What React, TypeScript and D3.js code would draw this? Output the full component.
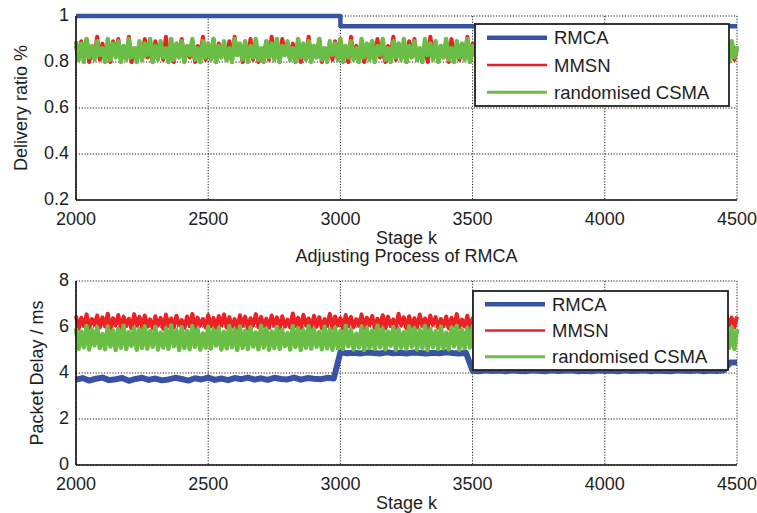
import React from 'react';
import * as d3 from 'd3';

// x axis (shared)
const stageTicks = [2000, 2500, 3000, 3500, 4000, 4500];
const ratioTicks = [0.2, 0.4, 0.6, 0.8, 1];
const delayTicks = [0, 2, 4, 6, 8];
const legendNames = ['RMCA', 'MMSN', 'randomised CSMA'];

// top plot: delivery ratio
const rmcaRatioStages = [2000, 3000, 4500];
const rmcaRatio = [1, 0.955, 0.955];

// MMSN / CSMA sampled every 10 stages, 2000..4500
const mmsnRatio = [
  0.87,0.81,0.89,0.82,0.90,0.80,0.86,0.83,0.91,0.81,
  0.88,0.82,0.85,0.80,0.89,0.84,0.90,0.81,0.87,0.82,
  0.91,0.80,0.86,0.83,0.88,0.81,0.90,0.82,0.85,0.80,
  0.89,0.83,0.87,0.81,0.91,0.82,0.86,0.80,0.88,0.84,
  0.90,0.81,0.85,0.82,0.89,0.80,0.87,0.83,0.91,0.81,
  0.86,0.82,0.90,0.80,0.88,0.84,0.85,0.81,0.89,0.82,
  0.91,0.83,0.87,0.80,0.86,0.82,0.90,0.81,0.88,0.80,
  0.85,0.83,0.89,0.81,0.91,0.82,0.87,0.80,0.90,0.84,
  0.86,0.81,0.88,0.82,0.89,0.80,0.85,0.83,0.91,0.81,
  0.87,0.82,0.90,0.80,0.86,0.84,0.88,0.81,0.89,0.82,
  0.90,0.83,0.85,0.80,0.91,0.82,0.87,0.81,0.88,0.80,
  0.86,0.84,0.89,0.81,0.90,0.82,0.85,0.80,0.87,0.83,
  0.91,0.81,0.88,0.82,0.86,0.80,0.89,0.83,0.90,0.81,
  0.85,0.82,0.87,0.80,0.91,0.84,0.88,0.81,0.86,0.82,
  0.89,0.80,0.90,0.83,0.87,0.81,0.85,0.82,0.91,0.80,
  0.88,0.83,0.86,0.81,0.89,0.82,0.90,0.80,0.87,0.84,
  0.85,0.81,0.91,0.82,0.88,0.80,0.86,0.83,0.89,0.81,
  0.90,0.82,0.87,0.80,0.85,0.84,0.91,0.81,0.88,0.82,
  0.86,0.80,0.89,0.83,0.90,0.81,0.87,0.82,0.85,0.80,
  0.91,0.83,0.88,0.81,0.86,0.82,0.89,0.80,0.90,0.84,
  0.87,0.81,0.85,0.82,0.91,0.80,0.88,0.83,0.86,0.81,
  0.89,0.82,0.90,0.80,0.87,0.84,0.85,0.81,0.91,0.82,
  0.88,0.83,0.86,0.80,0.89,0.82,0.90,0.81,0.87,0.80,
  0.85,0.84,0.91,0.81,0.88,0.82,0.86,0.80,0.89,0.83,
  0.90,0.81,0.87,0.82,0.85,0.80,0.91,0.83,0.88,0.81,
  0.86
];

const csmaRatio = [
  0.89,0.81,0.88,0.80,0.90,0.82,0.87,0.81,0.89,0.83,
  0.86,0.80,0.90,0.81,0.88,0.82,0.89,0.80,0.87,0.81,
  0.90,0.82,0.86,0.80,0.89,0.81,0.88,0.83,0.90,0.80,
  0.87,0.81,0.89,0.82,0.86,0.80,0.90,0.81,0.88,0.82,
  0.89,0.80,0.87,0.83,0.90,0.81,0.86,0.80,0.89,0.82,
  0.88,0.81,0.90,0.80,0.87,0.82,0.89,0.81,0.86,0.80,
  0.90,0.83,0.88,0.81,0.89,0.80,0.87,0.82,0.90,0.81,
  0.86,0.80,0.89,0.82,0.88,0.81,0.90,0.80,0.87,0.83,
  0.89,0.81,0.86,0.80,0.90,0.82,0.88,0.81,0.89,0.80,
  0.87,0.82,0.90,0.81,0.86,0.80,0.89,0.83,0.88,0.81,
  0.90,0.80,0.87,0.82,0.89,0.81,0.86,0.80,0.90,0.82,
  0.88,0.81,0.89,0.80,0.87,0.83,0.90,0.81,0.86,0.80,
  0.89,0.82,0.88,0.81,0.90,0.80,0.87,0.82,0.89,0.81,
  0.86,0.80,0.90,0.83,0.88,0.81,0.89,0.80,0.87,0.82,
  0.90,0.81,0.86,0.80,0.89,0.82,0.88,0.81,0.90,0.80,
  0.87,0.83,0.89,0.81,0.86,0.80,0.90,0.82,0.88,0.81,
  0.89,0.80,0.87,0.82,0.90,0.81,0.86,0.83,0.89,0.80,
  0.88,0.81,0.90,0.80,0.87,0.82,0.89,0.81,0.86,0.80,
  0.90,0.82,0.88,0.81,0.89,0.80,0.87,0.83,0.90,0.81,
  0.86,0.80,0.89,0.82,0.88,0.81,0.90,0.80,0.87,0.82,
  0.89,0.81,0.86,0.80,0.90,0.83,0.88,0.81,0.89,0.80,
  0.87,0.82,0.90,0.81,0.86,0.80,0.89,0.82,0.88,0.81,
  0.90,0.80,0.87,0.83,0.89,0.81,0.86,0.80,0.90,0.82,
  0.88,0.81,0.89,0.80,0.87,0.82,0.90,0.81,0.86,0.83,
  0.89,0.80,0.88,0.82,0.90,0.81,0.87,0.80,0.89,0.82,
  0.87
];

// bottom plot: packet delay (ms)
// RMCA sampled every 25 stages
const rmcaDelay = [
  3.71,3.78,3.67,3.75,3.80,3.69,3.73,3.78,3.66,3.74,
  3.79,3.70,3.76,3.68,3.72,3.79,3.74,3.67,3.77,3.72,
  3.80,3.70,3.76,3.69,3.78,3.73,3.80,3.71,3.77,3.70,
  3.79,3.74,3.72,3.80,3.71,3.78,3.75,3.73,3.79,3.76,
  4.90,4.86,4.88,4.85,4.89,4.87,4.85,4.90,4.86,4.88,
  4.85,4.89,4.87,4.85,4.88,4.86,4.90,4.87,4.85,4.88,
  4.10,4.08,4.12,4.09,4.11,4.07,4.12,4.09,4.08,4.12,
  4.10,4.08,4.12,4.09,4.11,4.12,4.08,4.10,4.07,4.12,
  4.09,4.11,4.08,4.12,4.09,4.10,4.12,4.08,4.11,4.09,
  4.08,4.12,4.10,4.09,4.12,4.08,4.11,4.09,
  4.12,4.46,4.46
];

const mmsnDelay = [
  6.48,5.92,6.40,6.05,6.55,5.95,6.35,6.10,6.50,5.98,
  6.42,6.02,6.58,5.93,6.38,6.08,6.52,5.96,6.45,6.04,
  6.36,5.94,6.56,6.06,6.44,5.97,6.50,6.01,6.33,5.95,
  6.47,6.07,6.40,5.92,6.54,6.03,6.37,5.99,6.49,6.09,
  6.30,5.96,6.46,6.04,6.57,5.93,6.41,6.06,6.35,5.98,
  6.52,6.02,6.39,5.95,6.48,6.08,6.55,5.97,6.43,6.01,
  6.34,5.94,6.51,6.05,6.45,5.92,6.38,6.07,6.56,5.99,
  6.44,6.03,6.36,5.96,6.50,6.06,6.42,5.93,6.47,6.02,
  6.32,5.98,6.59,6.04,6.40,5.95,6.53,6.08,6.37,5.97,
  6.49,6.01,6.43,5.94,6.35,6.05,6.57,5.96,6.46,6.07,
  6.39,5.93,6.52,6.03,6.44,5.99,6.34,6.06,6.55,5.95,
  6.41,6.08,6.48,5.97,6.36,6.02,6.51,5.94,6.45,6.04,
  6.33,5.96,6.58,6.07,6.42,5.93,6.47,6.01,6.38,5.98,
  6.54,6.05,6.37,5.95,6.50,6.09,6.43,5.97,6.35,6.03,
  6.46,5.94,6.40,6.06,6.56,5.99,6.32,6.02,6.49,5.96,
  6.38,6.07,6.53,5.93,6.45,6.04,6.41,5.98,6.57,6.01,
  6.36,5.95,6.48,6.08,6.39,5.97,6.52,6.05,6.44,5.94,
  6.50,6.02,6.34,5.96,6.55,6.06,6.42,5.93,6.47,6.09,
  6.40,5.98,6.58,6.03,6.37,5.95,6.51,6.07,6.33,5.97,
  6.45,6.04,6.43,5.94,6.53,6.01,6.38,5.99,6.56,6.05,
  6.35,5.96,6.49,6.07,6.41,5.93,6.46,6.02,6.39,5.98,
  6.54,6.06,6.36,5.95,6.48,6.08,6.44,5.97,6.52,6.03,
  6.42,5.94,6.57,6.05,6.34,5.99,6.50,6.01,6.40,5.96,
  6.47,6.07,6.39,5.93,6.55,6.04,6.43,5.98,6.36,6.06,
  6.51,5.95,6.45,6.02,6.38,5.97,6.53,6.08,6.41,5.99,
  6.46
];

const csmaDelay = [
  5.95,5.05,5.80,5.12,6.05,5.02,5.88,5.20,5.98,5.08,
  5.70,5.03,6.02,5.15,5.85,5.00,5.92,5.10,6.06,5.04,
  5.78,5.18,5.97,5.01,5.90,5.09,6.03,5.06,5.82,5.14,
  6.00,5.02,5.75,5.11,5.94,5.05,6.07,5.16,5.86,5.00,
  5.99,5.08,5.83,5.03,6.04,5.13,5.91,5.01,5.72,5.10,
  6.01,5.06,5.87,5.19,5.96,5.02,5.79,5.07,6.05,5.12,
  5.89,5.00,6.02,5.09,5.84,5.04,5.98,5.15,5.76,5.03,
  6.06,5.11,5.93,5.01,5.81,5.08,6.00,5.05,5.88,5.17,
  5.74,5.02,6.03,5.13,5.95,5.00,5.86,5.10,6.04,5.06,
  5.92,5.14,5.79,5.03,6.01,5.07,5.90,5.01,5.97,5.09,
  5.83,5.04,6.05,5.16,5.88,5.02,5.71,5.11,6.02,5.00,
  5.96,5.08,5.85,5.05,6.06,5.12,5.93,5.03,5.80,5.18,
  6.00,5.01,5.89,5.10,5.77,5.06,6.03,5.14,5.94,5.02,
  5.87,5.09,6.04,5.00,5.91,5.13,5.82,5.04,6.01,5.07,
  5.75,5.03,5.98,5.15,6.05,5.01,5.86,5.08,5.95,5.11,
  6.02,5.05,5.84,5.02,5.92,5.17,6.07,5.06,5.78,5.00,
  5.97,5.12,5.90,5.04,6.03,5.09,5.81,5.01,5.99,5.14,
  5.85,5.00,6.06,5.11,5.88,5.03,5.96,5.10,5.73,5.05,
  6.04,5.07,5.83,5.02,5.99,5.16,5.91,5.04,6.02,5.08,
  5.79,5.13,5.94,5.00,6.05,5.06,5.87,5.12,5.93,5.01,
  6.01,5.04,5.76,5.10,5.97,5.02,6.06,5.15,5.84,5.03,
  5.90,5.09,6.03,5.01,5.82,5.07,5.95,5.05,6.00,5.11,
  5.86,5.02,5.98,5.14,6.04,5.00,5.80,5.08,5.92,5.06,
  6.05,5.10,5.89,5.03,5.96,5.12,5.85,5.01,6.02,5.07,
  5.94,5.05,5.81,5.16,6.03,5.02,5.88,5.09,5.99,5.04,
  5.90
];

const BLUE = '#3953a4';
const RED = '#ed2024';
const GREEN = '#6abd45';
const FONT = '"Liberation Sans", Arial, Helvetica, sans-serif';
const TXT = '#1e1e1e';
const FS = 18;

const W = 757;
const H = 513;
const left = 76;
const right = 737;

// spread samples evenly over 2000..4500
const spread = (vals: number[]) =>
  vals.map((v, i) => [2000 + (i * 2500) / (vals.length - 1), v] as [number, number]);

type Series = { pts: [number, number][]; color: string; width: number; step?: boolean };

const Panel = ({
  top, bottom, yDomain, yTicks, yFmt, yLabel, yLabelX, series, legend,
}: {
  top: number; bottom: number; yDomain: [number, number]; yTicks: number[];
  yFmt: (v: number) => string; yLabel: string; yLabelX: number;
  series: Series[]; legend: { x: number; y: number; w: number; h: number };
}) => {
  const x = d3.scaleLinear().domain([2000, 4500]).range([left, right]);
  const y = d3.scaleLinear().domain(yDomain).range([bottom, top]);

  const colors = [BLUE, RED, GREEN];
  const lwid = [4.5, 2.5, 3];
  const rowH = legend.h / 3;

  return (
    <g>
      {/* grid, dotted */}
      {stageTicks.map(t => (
        <line key={'gx' + t} x1={x(t)} x2={x(t)} y1={top} y2={bottom}
          stroke="#000" strokeWidth={0.9} strokeDasharray="1.2,1.6" />
      ))}
      {yTicks.map(t => (
        <line key={'gy' + t} x1={left} x2={right} y1={y(t)} y2={y(t)}
          stroke="#000" strokeWidth={0.9} strokeDasharray="1.2,1.6" />
      ))}

      {series.map((s, i) => {
        const line = d3.line<[number, number]>()
          .x(d => x(d[0]))
          .y(d => y(d[1]))
          .curve(s.step ? d3.curveStepAfter : d3.curveLinear);
        return (
          <path key={i} d={line(s.pts) || ''} fill="none" stroke={s.color}
            strokeWidth={s.width} strokeLinejoin="round" />
        );
      })}

      {/* solid left + bottom axes */}
      <line x1={left} x2={left} y1={top} y2={bottom} stroke="#111" strokeWidth={1.6} />
      <line x1={left} x2={right} y1={bottom} y2={bottom} stroke="#111" strokeWidth={1.6} />

      {yTicks.map(t => (
        <text key={'ty' + t} x={left - 7} y={y(t) + 5} textAnchor="end"
          fontSize={FS} fill={TXT} fontFamily={FONT}>{yFmt(t)}</text>
      ))}
      {stageTicks.map(t => (
        <text key={'tx' + t} x={x(t)} y={bottom + 24.5} textAnchor="middle"
          fontSize={FS} fill={TXT} fontFamily={FONT}>{t}</text>
      ))}
      <text x={(left + right) / 2} y={bottom + 43.5} textAnchor="middle"
        fontSize={FS} fill={TXT} fontFamily={FONT}>Stage k</text>
      <text transform={`translate(${yLabelX},${(top + bottom) / 2}) rotate(-90)`}
        textAnchor="middle" fontSize={FS} fill={TXT} fontFamily={FONT}>{yLabel}</text>

      {/* legend */}
      <rect x={legend.x} y={legend.y} width={legend.w} height={legend.h}
        fill="#fff" stroke="#222" strokeWidth={1.8} />
      {legendNames.map((n, i) => {
        const cy = legend.y + rowH * (i + 0.5);
        return (
          <g key={n}>
            <line x1={legend.x + 12} x2={legend.x + 72} y1={cy} y2={cy}
              stroke={colors[i]} strokeWidth={lwid[i]} />
            <text x={legend.x + 79} y={cy + 6.5} fontSize={18.5} fill={TXT}
              fontFamily={FONT}>{n}</text>
          </g>
        );
      })}
    </g>
  );
};

export default function App() {
  const topSeries: Series[] = [
    { pts: rmcaRatioStages.map((s, i) => [s, rmcaRatio[i]]), color: BLUE, width: 4.5, step: true },
    { pts: spread(mmsnRatio), color: RED, width: 4 },
    { pts: spread(csmaRatio), color: GREEN, width: 4.4 },
  ];
  const bottomSeries: Series[] = [
    { pts: spread(rmcaDelay), color: BLUE, width: 6 },
    { pts: spread(mmsnDelay), color: RED, width: 4 },
    { pts: spread(csmaDelay), color: GREEN, width: 4.4 },
  ];

  return (
    <svg width={W} height={H} viewBox={`0 0 ${W} ${H}`}
      style={{ position: 'absolute', left: 0, top: 0, background: '#fff' }}>
      <rect width={W} height={H} fill="#fff" />
      <Panel top={16} bottom={200} yDomain={[0.2, 1]} yTicks={ratioTicks}
        yFmt={v => d3.format('~g')(v)} yLabel="Delivery ratio %" yLabelX={27}
        series={topSeries} legend={{ x: 475, y: 24, w: 254, h: 82 }} />
      <text x={(left + right) / 2} y={262} textAnchor="middle" fontSize={FS}
        fill={TXT} fontFamily={FONT}>Adjusting Process of RMCA</text>
      <Panel top={281} bottom={465} yDomain={[0, 8]} yTicks={delayTicks}
        yFmt={v => String(v)} yLabel="Packet Delay / ms" yLabelX={43}
        series={bottomSeries} legend={{ x: 473, y: 291, w: 255, h: 79 }} />
    </svg>
  );
}
